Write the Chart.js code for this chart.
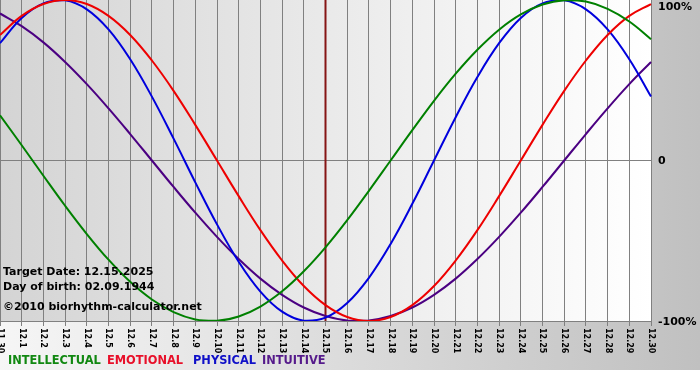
<!DOCTYPE html>
<html>
<head>
<meta charset="utf-8">
<title>Biorhythm</title>
<script src="https://cdn.jsdelivr.net/npm/chart.js@4.4.1/dist/chart.umd.min.js"></script>
<style>
    body { margin: 0; background: #fff; }
    canvas { display: block; }
</style>
</head>
<body>
<canvas id="bioChart" width="700" height="380"></canvas>
<script>
// Days shown on the x axis
const days = ['11.30', '12.1', '12.2', '12.3', '12.4', '12.5', '12.6', '12.7', '12.8', '12.9', '12.10',
    '12.11', '12.12', '12.13', '12.14', '12.15', '12.16', '12.17', '12.18', '12.19', '12.20',
    '12.21', '12.22', '12.23', '12.24', '12.25', '12.26', '12.27', '12.28', '12.29', '12.30'];

// Cycle values in percent, one per day
const intellectual = [28.2, 9.5, -9.5, -28.2, -45.8, -61.8, -75.6, -86.6, -94.5, -99.0, -99.9,
    -97.2, -91.0, -81.5, -69.0, -54.1, -37.2, -18.9, 0, 18.9, 37.2,
    54.1, 69.0, 81.5, 91.0, 97.2, 99.9, 99.0, 94.5, 86.6, 75.6];
const emotional = [78.2, 90.1, 97.5, 100, 97.5, 90.1, 78.2, 62.3, 43.4, 22.2, 0,
    -22.2, -43.4, -62.3, -78.2, -90.1, -97.5, -100, -97.5, -90.1, -78.2,
    -62.3, -43.4, -22.2, 0, 22.2, 43.4, 62.3, 78.2, 90.1, 97.5];
const physical = [73.1, 88.8, 97.9, 99.8, 94.2, 81.7, 63.1, 39.8, 13.6, -13.6, -39.8,
    -63.1, -81.7, -94.2, -99.8, -97.9, -88.8, -73.1, -52.0, -27.0, 0,
    27.0, 52.0, 73.1, 88.8, 97.9, 99.8, 94.2, 81.7, 63.1, 39.8];
const intuitive = [91.6, 83.7, 73.6, 61.4, 47.6, 32.5, 16.5, 0, -16.5, -32.5, -47.6,
    -61.4, -73.6, -83.7, -91.6, -96.9, -99.7, -99.7, -96.9, -91.6, -83.7,
    -73.6, -61.4, -47.6, -32.5, -16.5, 0, 16.5, 32.5, 47.6, 61.4];

const yLabels = ['100%', '0', '-100%'];
const yLabelValues = [100, 0, -100];
const targetIndex = 15;

const infoLines = ['Target Date: 12.15.2025', 'Day of birth: 02.09.1944', '\u00a92010 biorhythm-calculator.net'];
const legendNames = ['INTELLECTUAL', 'EMOTIONAL', 'PHYSICAL', 'INTUITIVE'];
const legendColors = ['#118811', '#e8102a', '#1010c8', '#551a8b'];
const legendX = [8, 107, 193, 262];

const FONT = '"DejaVu Sans", Verdana, sans-serif';

const bioPlugin = {
    id: 'bioPlugin',
    beforeDraw(chart) {
        const ctx = chart.ctx;
        const area = chart.chartArea;
        ctx.save();
        ctx.fillStyle = '#ffffff';
        ctx.fillRect(0, 0, chart.width, chart.height);
        // outer frame gradient
        let g = ctx.createLinearGradient(0, 0, chart.width, 0);
        g.addColorStop(0, '#f6f6f6');
        g.addColorStop(1, '#c0c0c0');
        ctx.fillStyle = g;
        ctx.fillRect(0, 0, chart.width, 370);
        // plot area gradient
        g = ctx.createLinearGradient(area.left, 0, area.right, 0);
        g.addColorStop(0, '#d4d4d4');
        g.addColorStop(1, '#ffffff');
        ctx.fillStyle = g;
        ctx.fillRect(area.left, area.top, area.right - area.left, area.bottom - area.top);
        ctx.restore();
    },
    beforeDatasetsDraw(chart) {
        const ctx = chart.ctx;
        const area = chart.chartArea;
        const x = chart.scales.x.getPixelForValue(targetIndex);
        ctx.save();
        ctx.strokeStyle = '#851515';
        ctx.lineWidth = 2;
        ctx.beginPath();
        ctx.moveTo(x, area.top);
        ctx.lineTo(x, area.bottom);
        ctx.stroke();
        ctx.restore();
    },
    afterDraw(chart) {
        const ctx = chart.ctx;
        const area = chart.chartArea;
        const xs = chart.scales.x;
        const ys = chart.scales.y;
        ctx.save();

        // rotated day labels
        ctx.fillStyle = '#000';
        ctx.font = 'bold 8px ' + FONT;
        ctx.textAlign = 'left';
        ctx.textBaseline = 'middle';
        days.forEach(function(d, i) {
            const x = xs.getPixelForValue(i);
            ctx.save();
            ctx.translate(x, area.bottom + 7);
            ctx.rotate(Math.PI / 2);
            ctx.fillText(d, 0, 0);
            ctx.restore();
        });

        // percent labels on the right
        ctx.font = 'bold 11px ' + FONT;
        yLabels.forEach(function(t, i) {
            let y = ys.getPixelForValue(yLabelValues[i]);
            y = Math.max(y + 1, 7);
            ctx.fillText(t, area.right + 7, y);
        });

        // info text
        ctx.fillText(infoLines[0], 3, 272);
        ctx.fillText(infoLines[1], 3, 287);
        ctx.fillText(infoLines[2], 3, 307);

        // legend
        ctx.font = 'bold 11.4px ' + FONT;
        legendNames.forEach(function(name, i) {
            ctx.fillStyle = legendColors[i];
            ctx.fillText(name, legendX[i], 361);
        });
        ctx.restore();
    }
};

new Chart(document.getElementById('bioChart'), {
    type: 'line',
    data: {
        labels: days,
        datasets: [
            { label: legendNames[0], data: intellectual, borderColor: '#008000' },
            { label: legendNames[1], data: emotional, borderColor: '#ee0000' },
            { label: legendNames[2], data: physical, borderColor: '#0000dd' },
            { label: legendNames[3], data: intuitive, borderColor: '#4b0082' }
        ]
    },
    options: {
        responsive: false,
        animation: false,
        layout: { padding: 0 },
        elements: {
            line: { borderWidth: 2, tension: 0.4, fill: false },
            point: { radius: 0 }
        },
        scales: {
            x: {
                offset: false,
                ticks: { display: false },
                grid: { color: '#808080', lineWidth: 1, drawTicks: true, tickLength: 5 },
                border: { color: '#808080' },
                afterFit: function(scale) { scale.height = 59; }
            },
            y: {
                position: 'right',
                min: -100,
                max: 100,
                ticks: { display: false, stepSize: 100 },
                grid: {
                    drawTicks: false,
                    color: function(c) { return c.tick && c.tick.value === 0 ? '#808080' : 'rgba(0,0,0,0)'; }
                },
                border: { display: false },
                afterFit: function(scale) { scale.width = 49; }
            }
        },
        plugins: {
            legend: { display: false },
            tooltip: { enabled: false }
        }
    },
    plugins: [bioPlugin]
});
</script>
</body>
</html>
